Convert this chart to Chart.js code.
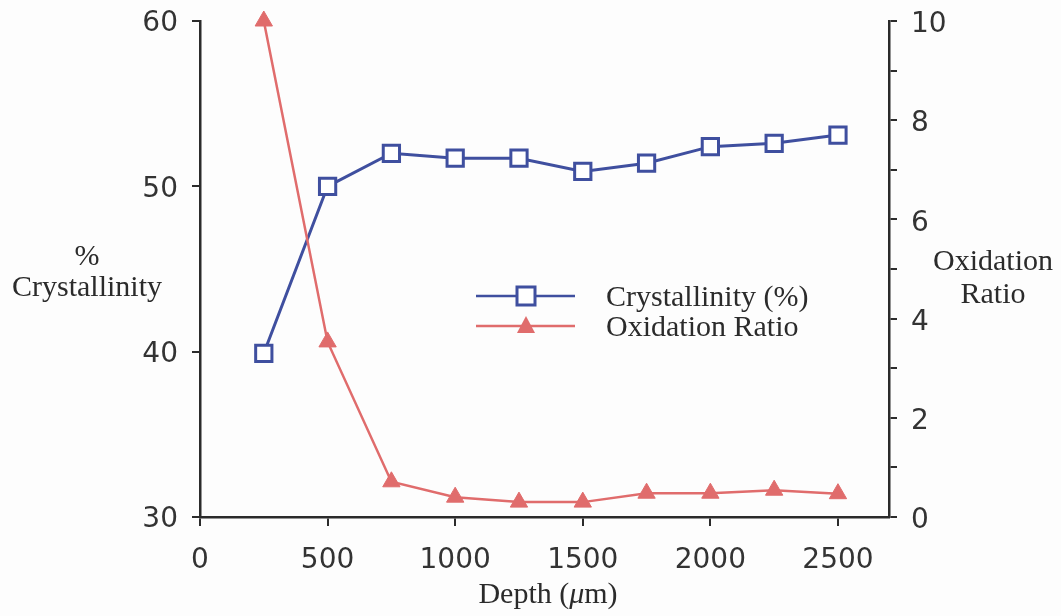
<!DOCTYPE html>
<html>
<head>
<meta charset="utf-8">
<script src="https://cdn.jsdelivr.net/npm/chart.js@4.4.1/dist/chart.umd.min.js"></script>
<style>
  body { margin: 0; background: #fdfdfd; }
  #wrap { width: 1061px; height: 616px; position: relative; }
</style>
</head>
<body>
<div id="wrap"><canvas id="chart"></canvas></div>
<script>
'use strict'

var depths = [250, 500, 750, 1000, 1250, 1500, 1750, 2000, 2250, 2500];
var crystallinity = [39.9, 50.0, 52.0, 51.7, 51.7, 50.9, 51.4, 52.4, 52.6, 53.1];
var oxidationRatio = [10.0, 3.53, 0.71, 0.40, 0.30, 0.30, 0.48, 0.48, 0.54, 0.47];
var xTickLabels = [0, 500, 1000, 1500, 2000, 2500];
var leftTickLabels = [30, 40, 50, 60];
var rightTickLabels = [0, 2, 4, 6, 8, 10];

var blue = '#3f4f9f';
var red = '#e06c6c';
var ink = '#2b2b2b';
var serif = '30px "Liberation Serif", "Times New Roman", serif';

function pairs(xs, ys) {
  var out = [];
  for (var i = 0; i < xs.length; i++) {
    out.push({x: xs[i], y: ys[i]});
  }
  return out;
}

// axis titles + legend drawn by hand (the original uses serif text, unrotated)
var decorations = {
  id: 'decorations',
  afterDraw: function(chart) {
    var ctx = chart.ctx;
    ctx.save();
    ctx.fillStyle = ink;
    ctx.textAlign = 'center';
    ctx.textBaseline = 'middle';
    ctx.font = serif;
    ctx.fillText('%', 87, 257);
    ctx.fillText('Crystallinity', 87, 288);
    ctx.fillText('Oxidation', 993, 262);
    ctx.fillText('Ratio', 993, 295);

    // x title with italic mu
    var a = 'Depth (', mu = '\u03bc', b = 'm)';
    ctx.font = serif;
    var wa = ctx.measureText(a).width, wb = ctx.measureText(b).width;
    ctx.font = 'italic ' + serif;
    var wm = ctx.measureText(mu).width;
    var x0 = 548 - (wa + wm + wb) / 2;
    ctx.textAlign = 'left';
    ctx.font = serif;
    ctx.fillText(a, x0, 595);
    ctx.font = 'italic ' + serif;
    ctx.fillText(mu, x0 + wa, 595);
    ctx.font = serif;
    ctx.fillText(b, x0 + wa + wm, 595);

    // legend
    var rows = [
      {label: 'Crystallinity (%)', color: blue, y: 296, marker: 'rect'},
      {label: 'Oxidation Ratio', color: red, y: 326, marker: 'triangle'}
    ];
    rows.forEach(function(r) {
      ctx.strokeStyle = r.color;
      ctx.lineWidth = 2.5;
      ctx.beginPath();
      ctx.moveTo(476, r.y);
      ctx.lineTo(575, r.y);
      ctx.stroke();
      if (r.marker === 'rect') {
        ctx.fillStyle = '#ffffff';
        ctx.fillRect(517, r.y - 9, 18, 18);
        ctx.lineWidth = 3;
        ctx.strokeRect(517, r.y - 9, 18, 18);
      } else {
        ctx.fillStyle = r.color;
        ctx.beginPath();
        ctx.moveTo(526, r.y - 10);
        ctx.lineTo(535, r.y + 7);
        ctx.lineTo(517, r.y + 7);
        ctx.closePath();
        ctx.fill();
      }
      ctx.fillStyle = ink;
      ctx.textAlign = 'left';
      ctx.font = serif;
      ctx.fillText(r.label, 606, r.y + 2);
    });
    ctx.restore();
  }
};

function keepOnly(list) {
  return function(scale) {
    scale.ticks = list.map(function(v) { return {value: v}; });
  };
}

function plain(v) { return String(v); }

var tickFont = {family: '"DejaVu Sans", sans-serif', size: 28};

var chart = new Chart(document.getElementById('chart'), {
  type: 'line',
  data: {
    datasets: [{
      label: 'Oxidation Ratio',
      data: pairs(depths, oxidationRatio),
      yAxisID: 'yRight',
      borderColor: red,
      backgroundColor: red,
      borderWidth: 2.5,
      pointStyle: 'triangle',
      pointRadius: 10,
      pointBorderWidth: 1,
      pointBackgroundColor: red,
      pointBorderColor: red,
      tension: 0
    }, {
      label: 'Crystallinity (%)',
      data: pairs(depths, crystallinity),
      yAxisID: 'yLeft',
      borderColor: blue,
      backgroundColor: '#ffffff',
      borderWidth: 3,
      pointStyle: 'rect',
      pointRadius: 11.5,
      pointBorderWidth: 3,
      pointBackgroundColor: '#ffffff',
      pointBorderColor: blue,
      tension: 0
    }]
  },
  options: {
    responsive: true,
    maintainAspectRatio: false,
    animation: false,
    clip: false,
    layout: { padding: { top: 21, left: 0, right: 0, bottom: 0 } },
    plugins: {
      legend: { display: false },
      tooltip: { enabled: false }
    },
    scales: {
      x: {
        type: 'linear',
        min: 0,
        max: 2700,
        afterBuildTicks: keepOnly(xTickLabels),
        afterFit: function(s) { s.height = 99; s.paddingLeft = 0; s.paddingRight = 0; },
        border: { display: true, color: ink, width: 2.5 },
        grid: { display: true, drawOnChartArea: false, drawTicks: true, tickLength: 9, color: ink, lineWidth: 2 },
        ticks: { color: '#333', font: tickFont, padding: 18, maxRotation: 0, autoSkip: false, callback: plain }
      },
      yLeft: {
        type: 'linear',
        position: 'left',
        min: 30,
        max: 60,
        afterBuildTicks: keepOnly(leftTickLabels),
        afterFit: function(s) { s.width = 200; s.paddingTop = 0; s.paddingBottom = 0; },
        border: { display: true, color: ink, width: 2.5 },
        grid: { display: true, drawOnChartArea: false, drawTicks: true, tickLength: 8, color: ink, lineWidth: 2 },
        ticks: { color: '#333', font: tickFont, padding: 14, labelOffset: 3, autoSkip: false, callback: plain }
      },
      yRight: {
        type: 'linear',
        position: 'right',
        min: 0,
        max: 10,
        afterFit: function(s) { s.width = 172; s.paddingTop = 0; s.paddingBottom = 0; },
        border: { display: true, color: ink, width: 2.5 },
        grid: { display: true, drawOnChartArea: false, drawTicks: true, tickLength: 8, color: ink, lineWidth: 2 },
        ticks: {
          color: '#333',
          font: tickFont,
          padding: 14,
          labelOffset: 4,
          stepSize: 1,
          autoSkip: false,
          callback: function(v) {
            return rightTickLabels.indexOf(v) !== -1 ? String(v) : '';
          }
        }
      }
    }
  },
  plugins: [decorations]
});
</script>
</body>
</html>
